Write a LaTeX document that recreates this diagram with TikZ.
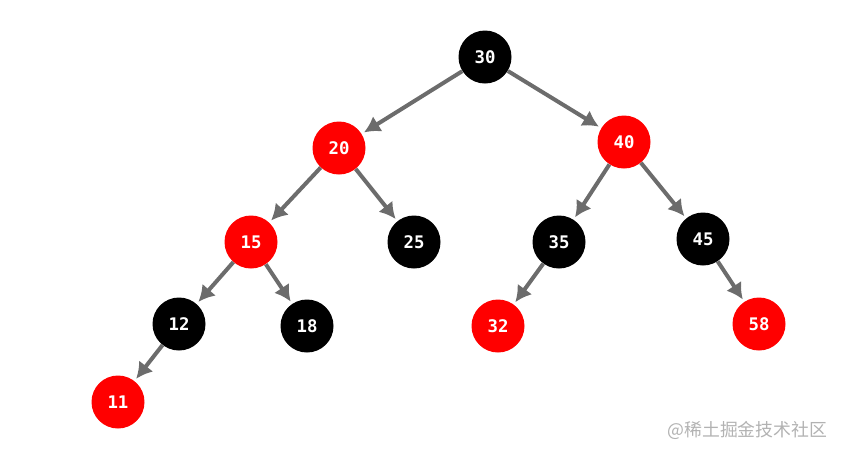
\documentclass[tikz,border=0pt]{standalone}
\usepackage{fontspec}
\usepackage{tikz}
\usetikzlibrary{arrows.meta}
\newfontfamily\numfont{DejaVu Sans Mono}
\newfontfamily\cjkfont{Noto Sans CJK SC}
\definecolor{NodeRed}{RGB}{255,0,0}
\definecolor{LinkGray}{RGB}{108,108,108}
\definecolor{MarkGray}{RGB}{178,178,178}

\begin{document}
\begin{tikzpicture}[x=0.75pt,y=-0.75pt,
  rbnode/.style={circle,minimum size=39.75pt,inner sep=0pt,text=white,font=\numfont\bfseries\fontsize{13}{13}\selectfont},
  rnode/.style={rbnode,fill=NodeRed},
  bnode/.style={rbnode,fill=black},
  link/.style={-{Latex[length=12pt,width=13.5pt]},line width=3pt,LinkGray,shorten >=2pt}]
\useasboundingbox (0,0) rectangle (844,455);
\node[bnode] (n30) at (485,57) {30};
\node[rnode] (n20) at (339,148) {20};
\node[rnode] (n40) at (624,142) {40};
\node[rnode] (n15) at (251,242) {15};
\node[bnode] (n25) at (414,242) {25};
\node[bnode] (n35) at (559,242) {35};
\node[bnode] (n45) at (703,239) {45};
\node[bnode] (n12) at (179,324) {12};
\node[bnode] (n18) at (307,326) {18};
\node[rnode] (n32) at (498,326) {32};
\node[rnode] (n58) at (759,324) {58};
\node[rnode] (n11) at (118,402) {11};
\draw[link] (n30)--(n20);
\draw[link] (n30)--(n40);
\draw[link] (n20)--(n15);
\draw[link] (n20)--(n25);
\draw[link] (n40)--(n35);
\draw[link] (n40)--(n45);
\draw[link] (n15)--(n12);
\draw[link] (n15)--(n18);
\draw[link] (n35)--(n32);
\draw[link] (n45)--(n58);
\draw[link] (n12)--(n11);
% watermark
\node[text=MarkGray,font=\cjkfont\fontsize{13.4}{14}\selectfont,anchor=east] (mark) at (832,430) {@稀土掘金技术社区};
\end{tikzpicture}
\end{document}
